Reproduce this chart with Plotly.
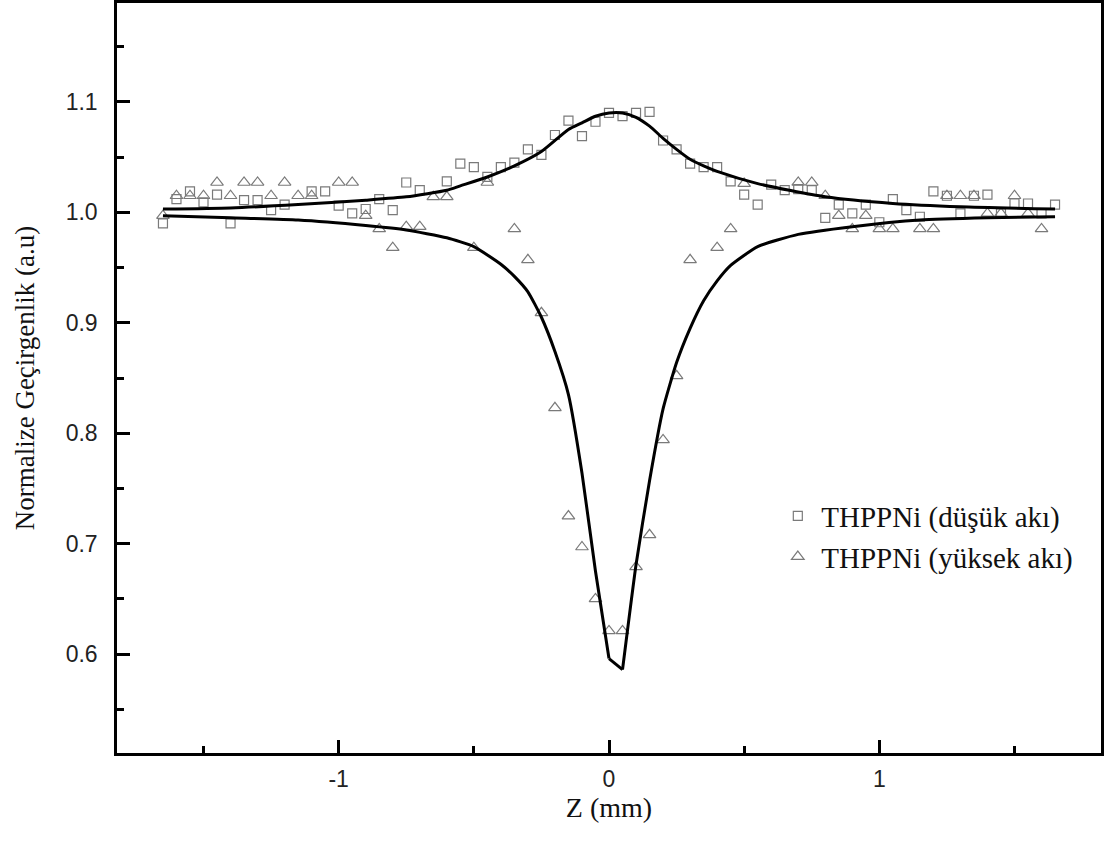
import plotly.graph_objects as go

# ---- data ----
low_x = [-1.65, -1.60, -1.55, -1.50, -1.45, -1.40, -1.35, -1.30, -1.25, -1.20,
         -1.10, -1.05, -1.00, -0.95, -0.90, -0.85, -0.80, -0.75, -0.70,
         -0.60, -0.55, -0.50, -0.45, -0.40, -0.35, -0.30, -0.25, -0.20, -0.15,
         -0.10, -0.05, 0.00, 0.05, 0.10, 0.15, 0.20, 0.25, 0.30, 0.35, 0.40,
         0.45, 0.50, 0.55, 0.60, 0.65, 0.70, 0.75, 0.80, 0.85, 0.90, 0.95,
         1.00, 1.05, 1.10, 1.15, 1.20, 1.25, 1.30, 1.35, 1.40, 1.45, 1.50,
         1.55, 1.60, 1.65]
low_y = [0.990, 1.012, 1.019, 1.009, 1.016, 0.990, 1.011, 1.011, 1.002, 1.007,
         1.019, 1.019, 1.006, 0.999, 1.003, 1.012, 1.002, 1.027, 1.020,
         1.028, 1.044, 1.041, 1.032, 1.041, 1.045, 1.057, 1.052, 1.070, 1.083,
         1.069, 1.082, 1.090, 1.087, 1.090, 1.091, 1.065, 1.057, 1.044, 1.041, 1.041,
         1.028, 1.016, 1.007, 1.025, 1.020, 1.021, 1.020, 0.995, 1.007, 0.999, 1.007,
         0.991, 1.012, 1.002, 0.996, 1.019, 1.015, 0.999, 1.015, 1.016, 0.999, 1.008,
         1.008, 0.999, 1.007]

high_x = [-1.65, -1.60, -1.55, -1.50, -1.45, -1.40, -1.35, -1.30, -1.25, -1.20,
          -1.15, -1.10, -1.00, -0.95, -0.90, -0.85, -0.80, -0.75, -0.70, -0.65,
          -0.60, -0.50, -0.45, -0.35, -0.30, -0.25, -0.20, -0.15, -0.10, -0.05,
          0.00, 0.05, 0.10, 0.15, 0.20, 0.25, 0.30, 0.40, 0.45, 0.50, 0.70,
          0.75, 0.80, 0.85, 0.90, 0.95, 1.00, 1.05, 1.15, 1.20, 1.25, 1.30,
          1.35, 1.40, 1.45, 1.50, 1.55, 1.60]
high_y = [0.997, 1.015, 1.015, 1.015, 1.027, 1.015, 1.027, 1.027, 1.015, 1.027,
          1.015, 1.015, 1.027, 1.027, 0.997, 0.985, 0.968, 0.987, 0.987, 1.014,
          1.014, 0.968, 1.027, 0.985, 0.957, 0.909, 0.823, 0.725, 0.697, 0.650,
          0.621, 0.621, 0.679, 0.708, 0.794, 0.852, 0.957, 0.968, 0.985, 1.026, 1.027,
          1.027, 1.015, 0.997, 0.985, 0.997, 0.985, 0.985, 0.985, 0.985, 1.015, 1.015,
          1.015, 0.999, 0.999, 1.015, 0.999, 0.985]

fit_low_x = [-1.65, -1.40, -1.15, -0.90, -0.75, -0.60, -0.55, -0.45, -0.35, -0.25,
             -0.15, -0.10, -0.05, 0.00, 0.05, 0.10, 0.15, 0.20, 0.25, 0.30,
             0.35, 0.40, 0.55, 0.80, 1.05, 1.30, 1.65]
fit_low_y = [1.003, 1.004, 1.007, 1.011, 1.014, 1.020, 1.024, 1.032, 1.042, 1.055,
             1.075, 1.081, 1.087, 1.090, 1.090, 1.086, 1.078, 1.067, 1.057, 1.048,
             1.042, 1.037, 1.026, 1.014, 1.008, 1.005, 1.003]

fit_high_x = [-1.65, -1.40, -1.15, -0.90, -0.75, -0.60, -0.50, -0.40, -0.35, -0.30,
              -0.25, -0.20, -0.15, -0.10, -0.05, 0.00, 0.05, 0.10, 0.15, 0.20,
              0.25, 0.30, 0.35, 0.40, 0.45, 0.55, 0.70, 0.90, 1.15, 1.40, 1.65]
fit_high_y = [0.997, 0.995, 0.993, 0.988, 0.984, 0.977, 0.969, 0.953, 0.942, 0.928,
              0.905, 0.874, 0.835, 0.764, 0.675, 0.596, 0.586, 0.681, 0.757, 0.822,
              0.864, 0.895, 0.920, 0.938, 0.952, 0.969, 0.980, 0.987, 0.993, 0.995, 0.996]

x_tickvals = [-1, 0, 1]
x_ticktext = ["-1", "0", "1"]
y_tickvals = [0.6, 0.7, 0.8, 0.9, 1.0, 1.1]
y_ticktext = ["0.6", "0.7", "0.8", "0.9", "1.0", "1.1"]

legend_names = ["THPPNi (düşük akı)", "THPPNi (yüksek akı)"]

SERIF = "Liberation Serif, Times New Roman, serif"
SANS = "Liberation Sans, Arial, sans-serif"
MARK = "#7a7a7a"
LINE = dict(color="black", width=3)

# split index of the sharp minimum of the high-flux fit (x = 0.00 and 0.05)
i0 = fit_high_x.index(0.00)
i1 = fit_high_x.index(0.05)

fig = go.Figure()
fig.add_trace(go.Scatter(x=low_x, y=low_y, mode="markers", name=legend_names[0],
                         marker=dict(symbol="square-open", size=9, color=MARK,
                                     line=dict(width=1.2, color=MARK))))
fig.add_trace(go.Scatter(x=high_x, y=high_y, mode="markers", name=legend_names[1],
                         marker=dict(symbol="triangle-up-open", size=11, color=MARK,
                                     line=dict(width=1.2, color=MARK))))
fig.add_trace(go.Scatter(x=fit_low_x, y=fit_low_y, mode="lines", showlegend=False,
                         line=dict(LINE, shape="spline", smoothing=0.6)))
fig.add_trace(go.Scatter(x=fit_high_x[:i0 + 1], y=fit_high_y[:i0 + 1], mode="lines",
                         showlegend=False, line=dict(LINE, shape="spline", smoothing=0.5)))
fig.add_trace(go.Scatter(x=fit_high_x[i0:i1 + 1], y=fit_high_y[i0:i1 + 1], mode="lines",
                         showlegend=False, line=LINE))
fig.add_trace(go.Scatter(x=fit_high_x[i1:], y=fit_high_y[i1:], mode="lines",
                         showlegend=False, line=dict(LINE, shape="spline", smoothing=0.5)))

fig.update_layout(
    width=1109, height=841,
    margin=dict(l=117, r=8, t=0, b=88),
    paper_bgcolor="white", plot_bgcolor="white",
    showlegend=True,
    legend=dict(x=0.668, y=0.35, xanchor="left", yanchor="top",
                font=dict(family=SERIF, size=29, color="#111"),
                bgcolor="rgba(0,0,0,0)", itemwidth=37, tracegroupgap=0),
)
fig.update_xaxes(
    range=[-1.82, 1.82], showgrid=False, zeroline=False,
    showline=True, linecolor="black", linewidth=2.5, mirror=True,
    ticks="inside", ticklen=13, tickwidth=2.5, tickcolor="black",
    tickmode="array", tickvals=x_tickvals, ticktext=x_ticktext,
    tickfont=dict(family=SANS, size=23, color="#222"),
    ticklabelstandoff=4,
    minor=dict(ticks="inside", ticklen=7, tickwidth=2.5, tickcolor="black",
               tickmode="array", tickvals=[-1.5, -0.5, 0.5, 1.5]),
    title=dict(text="Z (mm)", font=dict(family=SERIF, size=28, color="#111"), standoff=6),
)
fig.update_yaxes(
    range=[0.5105, 1.1895], showgrid=False, zeroline=False,
    showline=True, linecolor="black", linewidth=2.5, mirror=True,
    ticks="inside", ticklen=13, tickwidth=2.5, tickcolor="black",
    tickmode="array", tickvals=y_tickvals, ticktext=y_ticktext,
    tickfont=dict(family=SANS, size=23, color="#222"),
    ticklabelstandoff=12,
    minor=dict(ticks="inside", ticklen=7, tickwidth=2.5, tickcolor="black",
               tickmode="array", tickvals=[0.55, 0.65, 0.75, 0.85, 0.95, 1.05, 1.15]),
    title=dict(text="Normalize Geçirgenlik (a.u)", font=dict(family=SERIF, size=27, color="#111"),
               standoff=24),
)

fig.write_html("out.html")
